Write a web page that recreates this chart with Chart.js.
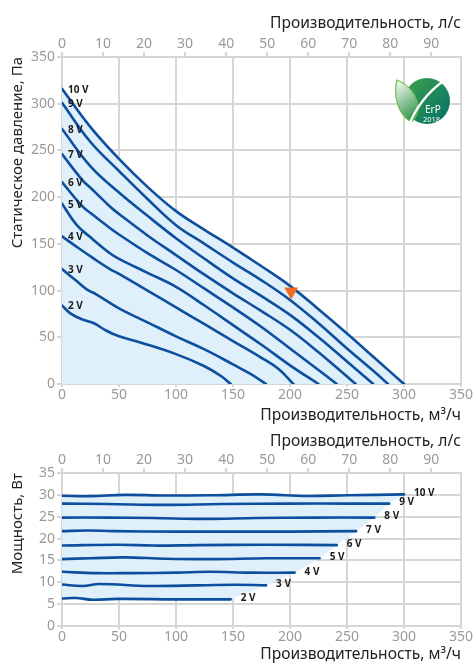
<!DOCTYPE html>
<html><head><meta charset="utf-8">
<script src="https://cdn.jsdelivr.net/npm/chart.js@4/dist/chart.umd.min.js"></script>
<style>
html,body{margin:0;padding:0;background:#fff;width:474px;height:664px;overflow:hidden;}
#c1{position:absolute;left:0;top:0;}
#c2{position:absolute;left:0;top:425px;}
#logo{position:absolute;left:390px;top:74px;}
</style></head><body>
<canvas id="c1" width="474" height="425"></canvas>
<canvas id="c2" width="474" height="239"></canvas>
<svg id="logo" width="64" height="56" viewBox="0 0 64 56">
<defs>
 <linearGradient id="lg" x1="0" y1="0" x2="1" y2="1"><stop offset="0" stop-color="#3fa34d"/><stop offset="1" stop-color="#006e68"/></linearGradient>
 <linearGradient id="lf" x1="0" y1="0" x2="0.4" y2="1"><stop offset="0" stop-color="#ffffff"/><stop offset="1" stop-color="#3c9a55"/></linearGradient>
</defs>
<circle cx="37" cy="27" r="23" fill="url(#lg)"/>
<path d="M21 48 C8 40 3 22 7 6 C19 11 28 21 28 36 C27 42 24 46 21 48 Z" fill="url(#lf)" stroke="#6cbf4a" stroke-width="1.2"/>
<path d="M19 51 C25 36 36 20 52 8" stroke="#fff" stroke-width="2.2" fill="none"/>
<text x="35" y="39" font-family="Noto Sans" font-size="10" fill="#fff">ErP</text>
<text x="33" y="47.5" font-family="Noto Sans" font-size="7.5" fill="#fff">2018</text>
</svg>
<script>
// ---- tick labels ----
const flowTicksM3h = [0, 50, 100, 150, 200, 250, 300, 350];
const flowTicksLs = [0, 10, 20, 30, 40, 50, 60, 70, 80, 90];
const pressureTicks = [0, 50, 100, 150, 200, 250, 300, 350];
const powerTicks = [0, 5, 10, 15, 20, 25, 30, 35];
const curveLabels = ['2 V', '3 V', '4 V', '5 V', '6 V', '7 V', '8 V', '9 V', '10 V'];

// ---- static pressure curves (flow m3/h, pressure Pa) ----
const flow_2V = [0, 8, 18, 28, 39, 50, 70, 100, 125, 140, 148];
const pres_2V = [84, 75, 69, 65, 57, 51, 44, 32, 19, 8, 0];
const flow_3V = [0, 12, 22, 30, 50, 75, 100, 125, 150, 165, 179];
const pres_3V = [123, 111, 101, 96, 81, 66, 51, 37, 21, 11, 0];
const flow_4V = [0, 15, 27, 42, 50, 75, 100, 125, 150, 175, 190, 203];
const pres_4V = [158, 145, 135, 123, 118, 100, 82, 64, 46, 28, 16, 0];
const flow_5V = [0, 13, 25, 42, 50, 75, 100, 125, 150, 175, 200, 225];
const pres_5V = [193, 170, 157, 140, 134, 119, 104, 84, 63, 42, 20, 0];
const flow_6V = [0, 18, 25, 42, 50, 75, 100, 125, 150, 175, 200, 225, 241];
const pres_6V = [216, 190, 183, 167, 160, 140, 122, 102, 82, 61, 38, 15, 0];
const flow_7V = [0, 18, 25, 42, 50, 75, 100, 125, 150, 175, 200, 225, 250, 257.6];
const pres_7V = [246, 218, 210, 190, 182, 159, 138, 117, 97, 78, 58, 34, 8, 0];
const flow_8V = [0, 25, 50, 75, 100, 125, 150, 175, 200, 225, 250, 273];
const pres_8V = [273, 233, 205, 180, 156, 134, 113, 94, 74, 50, 24, 0];
const flow_9V = [0, 25, 50, 75, 100, 125, 150, 175, 200, 225, 250, 275, 286];
const pres_9V = [301, 259, 228, 198, 170, 150, 130, 111, 90, 65, 38, 12, 0];
const flow_10V = [0, 25, 50, 75, 100, 125, 150, 175, 200, 225, 250, 275, 300];
const pres_10V = [316, 275, 241, 211, 185, 165, 146, 126, 105, 80, 54, 27, 0];
const dutyFlow = [201];
const dutyPres = [99];

// ---- power curves (flow m3/h, power W) ----
const pflow_2V = [0, 12, 27, 48, 100, 148];
const power_2V = [6.3, 6.4, 6.0, 6.2, 6.1, 6.1];
const pflow_3V = [0, 18, 33, 77, 150, 179];
const power_3V = [9.5, 9.15, 9.6, 9.15, 9.45, 9.3];
const pflow_4V = [0, 30, 60, 100, 130, 165, 204];
const power_4V = [12.4, 12.1, 12.1, 12.2, 12.4, 12.2, 12.2];
const pflow_5V = [0, 25, 55, 90, 130, 180, 226];
const power_5V = [15.3, 15.5, 15.7, 15.4, 15.3, 15.5, 15.5];
const pflow_6V = [0, 50, 80, 120, 180, 241];
const power_6V = [18.4, 18.6, 18.4, 18.5, 18.6, 18.5];
const pflow_7V = [0, 22, 45, 100, 150, 200, 258];
const power_7V = [21.7, 21.85, 21.7, 21.6, 21.6, 21.6, 21.7];
const pflow_8V = [0, 40, 80, 125, 170, 220, 274];
const power_8V = [24.8, 24.8, 24.7, 24.5, 24.7, 24.8, 24.8];
const pflow_9V = [0, 40, 90, 140, 200, 250, 287];
const power_9V = [28.0, 27.9, 27.7, 27.9, 28.0, 28.0, 28.0];
const pflow_10V = [0, 25, 55, 90, 130, 175, 215, 250, 300];
const power_10V = [29.8, 29.7, 30.0, 29.85, 29.9, 30.1, 29.75, 29.9, 30.1];

const lineColor = '#0d4f9e';
const fillColor = '#dff0fb';
const gridColor = '#d6d6d6';
const tickColor = '#9a9a9a';
const titleColor = '#222222';
const FONT = "'Noto Sans', sans-serif";
Chart.defaults.font.family = FONT;

function pts(xs, ys) { return xs.map((x, i) => ({ x: x, y: ys[i] })); }

const topX = [flow_2V, flow_3V, flow_4V, flow_5V, flow_6V, flow_7V, flow_8V, flow_9V, flow_10V];
const topY = [pres_2V, pres_3V, pres_4V, pres_5V, pres_6V, pres_7V, pres_8V, pres_9V, pres_10V];
const botX = [pflow_2V, pflow_3V, pflow_4V, pflow_5V, pflow_6V, pflow_7V, pflow_8V, pflow_9V, pflow_10V];
const botY = [power_2V, power_3V, power_4V, power_5V, power_6V, power_7V, power_8V, power_9V, power_10V];

const lineLabels = {
  id: 'lineLabels',
  afterDatasetsDraw(chart, args, opts) {
    const ctx = chart.ctx;
    ctx.save();
    ctx.font = 'bold 10px ' + FONT;
    ctx.fillStyle = '#1a1a1a';
    ctx.textBaseline = 'middle';
    ctx.textAlign = 'left';
    chart.data.datasets.forEach((ds, i) => {
      if (!ds.curveLabel) return;
      const meta = chart.getDatasetMeta(i);
      const el = opts.at === 'start' ? meta.data[0] : meta.data[meta.data.length - 1];
      ctx.fillText(ds.curveLabel, el.x + opts.dx, el.y + opts.dy);
    });
    ctx.restore();
  }
};

function curveDatasets(xs, ys, tension) {
  return xs.map((x, i) => ({
    data: pts(x, ys[i]),
    curveLabel: curveLabels[i],
    showLine: true,
    borderColor: lineColor,
    borderWidth: 2.6,
    borderCapStyle: 'round',
    pointRadius: 0,
    fill: false,
    tension: tension,
    order: 1
  }));
}

function scalesFor(cfg) {
  const fixTicks = arr => (s => { s.ticks = arr.map(v => ({ value: v })); });
  return {
    x: {
      type: 'linear', position: 'bottom', min: 0, max: 350,
      afterBuildTicks: fixTicks(flowTicksM3h),
      afterFit: s => { s.height = cfg.bottomH; },
      grid: { color: gridColor, lineWidth: 2, tickLength: 3, drawTicks: true },
      border: { color: gridColor, width: 2 },
      ticks: { color: tickColor, font: { size: 14 }, padding: 0, maxRotation: 0, autoSkip: false },
      title: { display: true, text: 'Производительность, м³/ч', align: 'end', color: titleColor,
               font: { size: 15.6 }, padding: { top: 0, bottom: cfg.bottomTitlePad } }
    },
    x2: {
      type: 'linear', position: 'top', min: 0, max: 350 / 3.6,
      afterBuildTicks: fixTicks(flowTicksLs),
      afterFit: s => { s.height = cfg.topH; },
      grid: { color: gridColor, lineWidth: 2, tickLength: 5, drawTicks: true, drawOnChartArea: false },
      border: { color: gridColor, width: 2 },
      ticks: { color: tickColor, font: { size: 14 }, padding: 0, maxRotation: 0, autoSkip: false },
      title: { display: true, text: 'Производительность, л/с', align: 'end', color: titleColor,
               font: { size: 15.6 }, padding: { top: cfg.topTitlePad, bottom: 0 } }
    },
    y: {
      type: 'linear', position: 'left', min: 0, max: cfg.yMax,
      afterBuildTicks: fixTicks(cfg.yTicks),
      afterFit: s => { s.width = 62; },
      grid: { color: gridColor, lineWidth: 2, tickLength: 5, drawTicks: true },
      border: { color: gridColor, width: 2 },
      ticks: { color: tickColor, font: { size: 14 }, padding: 2 },
      title: { display: true, text: cfg.yTitle, align: 'end', color: titleColor,
               font: { size: 15 }, padding: { top: 9, bottom: 0 } }
    }
  };
}

function baseOptions(cfg) {
  return {
    responsive: false, animation: false, devicePixelRatio: 1,
    layout: { padding: { left: 0, right: 13, top: 0, bottom: 0 } },
    plugins: { legend: { display: false }, tooltip: { enabled: false }, lineLabels: cfg.labels },
    scales: scalesFor(cfg)
  };
}

// ---- top chart: static pressure ----
const topDatasets = curveDatasets(topX, topY, 0.4);
topDatasets.push({
  data: pts(flow_10V, pres_10V), showLine: true, fill: 'origin', backgroundColor: fillColor,
  borderColor: 'rgba(0,0,0,0)', borderWidth: 0, pointRadius: 0, tension: 0.4, order: 100
});
topDatasets.push({
  data: pts(dutyFlow, dutyPres), showLine: false, pointStyle: 'triangle', rotation: 180,
  pointRadius: 8, backgroundColor: '#f26a21', borderColor: '#f26a21', borderWidth: 0, order: 0
});
new Chart(document.getElementById('c1'), {
  type: 'scatter',
  data: { datasets: topDatasets },
  options: baseOptions({ bottomH: 41, topH: 57, topTitlePad: 14, bottomTitlePad: 0, yMax: 350,
    yTicks: pressureTicks, yTitle: 'Статическое давление, Па',
    labels: { at: 'start', dx: 6, dy: 1 } }),
  plugins: [lineLabels]
});

// ---- bottom chart: power ----
const botDatasets = curveDatasets(botX, botY, 0.4);
const envelope = pts(pflow_10V, power_10V);
for (let i = botX.length - 2; i >= 1; i--) {
  const xs = botX[i], ys = botY[i];
  envelope.push({ x: xs[xs.length - 1], y: ys[ys.length - 1] });
}
for (let j = pflow_2V.length - 1; j >= 0; j--) envelope.push({ x: pflow_2V[j], y: power_2V[j] });
botDatasets.push({
  data: envelope, showLine: true, fill: 'shape', backgroundColor: fillColor,
  borderColor: 'rgba(0,0,0,0)', borderWidth: 0, pointRadius: 0, tension: 0, order: 100
});
new Chart(document.getElementById('c2'), {
  type: 'scatter',
  data: { datasets: botDatasets },
  options: baseOptions({ bottomH: 38, topH: 48, topTitlePad: 7, bottomTitlePad: 0, yMax: 35,
    yTicks: powerTicks, yTitle: 'Мощность, Вт',
    labels: { at: 'end', dx: 10, dy: -1 } }),
  plugins: [lineLabels]
});
</script>
</body></html>
